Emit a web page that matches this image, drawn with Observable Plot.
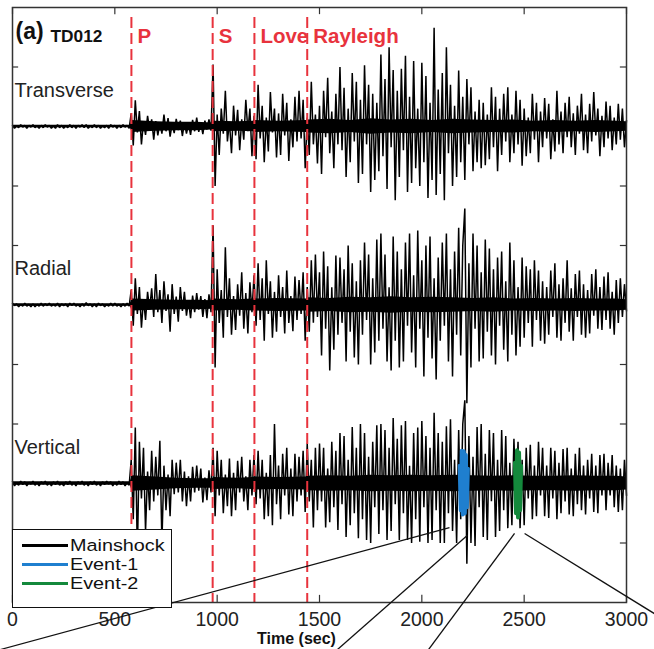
<!DOCTYPE html>
<html>
<head>
<meta charset="utf-8">
<script src="https://cdn.jsdelivr.net/npm/d3@7"></script>
<script src="https://cdn.jsdelivr.net/npm/@observablehq/plot@0.6"></script>
<style>
  body { margin: 0; background: #fff; }
  #wrap { position: relative; width: 654px; height: 649px; overflow: hidden; }
  #legend { position: absolute; left: 12px; top: 529px; width: 158px; height: 71px;
    border: 1.5px solid #111; background: #fff; padding-top: 6px; box-sizing: content-box;
    font: 16.8px "Liberation Sans", Arial, sans-serif; color: #111; }
  #legend .row { height: 19px; line-height: 19px; display: flex; align-items: center; white-space: nowrap; }
  #legend .sw { display: inline-block; width: 46px; height: 3px; margin-left: 9px; margin-right: 2px; }
  #legend .lbl { display: inline-block; transform: scaleX(1.18); transform-origin: 0 50%; }
</style>
</head>
<body>
<div id="wrap"></div>
<script>
// ---- data (amplitudes in hundredths of a trace unit, one sample every 10 s) ----
const sampleStep = 10;
const transverse = [
  2,-3,1,-2,3,-1,2,-3,2,-1,
  3,-2,1,-3,2,-2,3,-1,2,-3,
  1,-3,3,-2,2,-3,1,-2,3,-2,
  2,-3,2,-1,3,-2,3,-3,1,-2,
  3,-2,2,-3,1,-2,2,-3,3,-1,
  2,-3,2,-2,3,-1,2,-3,22,-32,
  44,-10,26,-30,8,-14,18,-6,12,-22,
  9,-15,6,-12,20,-8,14,-17,5,-11,
  13,-6,10,-16,7,-12,4,-14,11,-8,
  15,-9,6,-13,10,-5,12,-7,104,-100,
  20,-48,30,-12,60,-25,8,-45,35,-15,
  28,-40,12,-22,45,-8,30,-50,18,-55,
  70,-20,35,-60,15,-42,58,-10,30,-52,
  22,-48,55,-15,40,-58,12,-35,50,-25,
  60,-20,45,-70,15,-48,75,-30,20,-62,
  35,-80,60,-18,82,-45,25,-70,55,-30,
  100,-40,65,-85,30,-60,90,-25,75,-95,
  45,-80,103,-30,70,-110,55,-90,40,-75,
  121,-50,80,-105,133,-35,95,-124,60,-85,
  97,-40,119,-110,50,-95,110,-70,30,-100,
  107,-60,85,-120,40,-90,166,-115,62,-80,
  90,-124,133,-45,70,-100,35,-85,94,-60,
  50,-90,80,-30,66,-75,25,-60,45,-70,
  40,-65,20,-55,66,-35,50,-75,30,-48,
  55,-25,66,-60,20,-45,60,-30,45,-66,
  30,-50,15,-45,55,-22,40,-60,25,-35,
  48,-20,38,-55,12,-42,60,-30,25,-45,
  40,-18,50,-35,22,-48,35,-12,55,-40,
  20,-45,38,-25,58,-15,30,-50,18,-35,
  42,-20,35,-40,15,-30,38,-22,30,-35,
  10
];
const radial = [
  3,-1,2,-3,1,-2,3,-2,1,-3,
  2,-3,1,-2,3,-2,2,-1,3,-2,
  1,-2,3,-3,2,-1,2,-3,3,-1,
  3,-2,1,-3,2,-2,4,-1,2,-3,
  2,-3,3,-1,2,-3,1,-2,3,-2,
  3,-2,1,-3,2,-2,3,-2,25,-35,
  45,-15,30,-38,10,-25,22,-8,28,-20,
  52,-12,25,-30,40,-10,18,-45,35,-15,
  14,-28,30,-10,22,-18,8,-22,16,-12,
  20,-8,15,-20,10,-22,18,-12,134,-105,
  60,-30,25,-55,97,-20,45,-50,15,-42,
  35,-18,55,-40,20,-48,38,-12,50,-35,
  70,-25,45,-60,75,-15,40,-55,22,-45,
  50,-20,30,-48,58,-30,15,-44,48,-25,
  42,-15,55,-60,30,-45,75,-30,85,-20,
  55,-85,90,-40,65,-110,30,-75,83,-50,
  80,-30,60,-95,100,-45,70,-88,40,-100,
  75,-50,105,-25,85,-100,45,-80,110,-60,
  120,-40,85,-95,30,-110,115,-60,90,-105,
  60,-95,105,-35,120,-80,50,-105,125,-40,
  75,-120,100,-55,115,-90,45,-125,80,-60,
  105,-35,120,-95,60,-120,90,-50,130,-85,
  100,162,-165,70,-105,120,-40,100,-95,55,
  -90,110,-45,95,-85,60,-100,80,-35,90,
  -75,40,-95,105,-50,75,-85,30,-70,80,
  -55,65,-30,60,-70,75,-25,58,-60,40,
  -65,30,-50,58,-20,70,-55,35,-60,45,
  -30,75,-45,28,-60,52,-20,58,-50,35,
  -55,25,-48,52,-18,60,-40,30,-42,48,
  -25,55,-40,22,-50,42,-30,45,-20,35,
  -10
];
const vertical = [
  3,-4,1,-3,4,-2,3,-4,2,-1,
  4,-3,2,-4,3,-1,4,-3,2,-4,
  3,-2,4,-3,1,-4,3,-2,4,-3,
  2,-4,3,-1,4,-3,2,-4,3,-2,
  4,-3,2,-4,3,-2,4,-1,3,-4,
  2,-3,4,-2,3,-4,2,-3,40,-60,
  94,-120,70,-25,60,-80,20,-45,55,-30,
  45,-20,72,-100,30,-45,15,-55,40,-18,
  35,-15,40,-30,20,-38,12,-30,28,-15,
  30,-12,25,-32,10,-28,22,-15,60,-55,
  55,-20,40,-50,15,-38,42,-55,18,-45,
  38,-15,45,-30,12,-45,40,-20,48,-35,
  55,-25,40,-60,18,-55,48,-70,100,-35,
  30,-60,50,-20,60,-52,25,-55,50,-30,
  45,-20,55,-48,67,-30,40,-74,60,-45,
  67,-30,60,-74,25,-65,70,-40,55,-78,
  85,-35,80,-90,40,-70,95,-50,60,-92,
  100,-60,85,-95,45,-100,70,-40,98,-85,
  100,-45,90,-95,60,-80,110,-35,75,-95,
  98,-50,105,-95,30,-100,85,-60,94,-98,
  105,-40,80,-100,60,-95,119,-45,85,-100,
  70,-100,96,-50,108,-80,40,-100,90,-60,
  100,140,-135,80,-100,45,-105,95,-40,100,
  -90,50,-95,90,-30,85,-90,40,-80,90,
  -45,80,-75,35,-70,75,-30,70,-75,40,
  -70,60,-25,65,-60,30,-55,70,-20,60,
  -55,30,-58,60,-25,55,-60,35,-50,58,
  -30,60,-52,25,-55,50,-35,60,-45,30,
  -52,40,-25,50,-48,30,-50,48,-20,50,
  -45,35,-20,48,-40,30,-48,25,-45,40,
  -20
];
// half-width of the solid black high-frequency band of each trace (hundredths), read at these times
const coreTimes = [0, 575, 585, 700, 800, 900, 975, 985, 1100, 1175, 1185, 1300, 1435, 1445, 1550,
  1650, 1750, 1850, 1950, 2050, 2150, 2250, 2350, 2450, 2550, 2650, 2750, 2850, 2950, 3000];
const transverseCore = [2,2,10,8,7,7,6,9,8,9,10,9,10,11,12,10,13,11,12,10,12,11,10,11,9,10,9,10,9,8];
const radialCore = [2,2,10,9,8,8,7,10,9,10,10,11,10,12,11,13,12,14,12,13,12,11,12,10,11,10,11,10,10,9];
const verticalCore = [3,3,13,11,9,8,8,10,9,10,11,10,11,12,13,12,14,13,14,13,14,13,12,13,12,12,13,12,12,11];

const traceNames = ["Transverse", "Radial", "Vertical"];
const traceOffsets = [3, 0, -3];

const event1Times = [2185, 2190, 2195, 2200, 2205, 2210, 2215, 2220, 2225];
const event1Values = [30, -45, 55, -52, 54, -50, 48, -40, 25];
const event2Times = [2455, 2460, 2465, 2470, 2475, 2480, 2485];
const event2Values = [35, -50, 56, -57, 52, -45, 30];

const phaseNames = ["P", "S", "Love", "Rayleigh"];
const phaseTimes = [581, 978, 1182, 1440];

const xTickValues = [0, 500, 1000, 1500, 2000, 2500, 3000];
const yTickValues = [4, 2, 1, -1, -2, -4];

const legendNames = ["Mainshock", "Event-1", "Event-2"];
const legendColors = ["#000000", "#1f7fcf", "#14893c"];

// connector lines leaving the panel (time, trace units)
const connectorT1 = [-59, 2223, 2453, 2502];
const connectorV1 = [-5.79, -3.87, -3.84, -3.84];
const connectorT2 = [2135, 1588, 2033, 3166];
const connectorV2 = [-3.74, -5.79, -5.79, -5.25];

// ---- build tables ----
const rows = [];
[transverse, radial, vertical].forEach((vals, k) =>
  vals.forEach((v, i) => rows.push({trace: traceNames[k], t: i * sampleStep, y: traceOffsets[k] + v / 100})));
const coreRows = [];
[transverseCore, radialCore, verticalCore].forEach((vals, k) =>
  vals.forEach((v, i) => coreRows.push({trace: traceNames[k], t: coreTimes[i],
    lo: traceOffsets[k] - v / 100, hi: traceOffsets[k] + v / 100})));
const ev1 = event1Times.map((t, i) => ({t, y: traceOffsets[2] + event1Values[i] / 100}));
const ev2 = event2Times.map((t, i) => ({t, y: traceOffsets[2] + event2Values[i] / 100}));
const connectors = connectorT1.map((t, i) => ({x1: t, y1: connectorV1[i], x2: connectorT2[i], y2: connectorV2[i]}));
const labels = traceNames.map((name, i) => ({name, y: traceOffsets[i]}));

const red = "#e8333d";
const sans = "'Liberation Sans', Arial, Helvetica, sans-serif";

const chart = Plot.plot({
  width: 654,
  height: 649,
  marginLeft: 12,
  marginRight: 28,
  marginTop: 7,
  marginBottom: 47,
  style: {fontFamily: sans, background: "transparent", overflow: "visible"},
  x: {domain: [0, 3000], axis: null},
  y: {domain: [-5, 5], axis: null},
  marks: [
    Plot.areaY(coreRows, {x: "t", y1: "lo", y2: "hi", z: "trace", fill: "#000", curve: "linear"}),
    Plot.line(rows, {x: "t", y: "y", z: "trace", stroke: "#000", strokeWidth: 1.5, strokeLinejoin: "miter"}),
    Plot.line(ev1, {x: "t", y: "y", stroke: legendColors[1], strokeWidth: 4}),
    Plot.line(ev2, {x: "t", y: "y", stroke: legendColors[2], strokeWidth: 4}),
    Plot.ruleX(phaseTimes, {y1: 4.83, y2: -5, stroke: red, strokeWidth: 2, strokeDasharray: "11,5"}),
    Plot.text(phaseNames, {x: (d, i) => phaseTimes[i], y: 5, dy: 35, dx: 6, lineAnchor: "bottom",
      textAnchor: "start", fill: red, fontWeight: "bold", fontSize: 20.5, ariaLabel: "phase-labels"}),
    Plot.text(["(a)"], {frameAnchor: "top-left", dx: 3, dy: 31, lineAnchor: "bottom", textAnchor: "start",
      fontSize: 23, fontWeight: "bold", fill: "#111", ariaLabel: "panel-letter"}),
    Plot.text(["TD012"], {frameAnchor: "top-left", dx: 38, dy: 34, lineAnchor: "bottom", textAnchor: "start",
      fontSize: 17.3, fontWeight: "bold", fill: "#111", ariaLabel: "station"}),
    Plot.text(labels, {x: 0, y: "y", text: "name", dx: 2, dy: -30, lineAnchor: "bottom", textAnchor: "start",
      fontSize: 20, fill: "#222", ariaLabel: "trace-labels"}),
    // ticks (inward)
    Plot.ruleX(xTickValues, {y1: -5, y2: -4.88, stroke: "#333", strokeWidth: 1.2}),
    Plot.ruleX(xTickValues, {y1: 5, y2: 4.88, stroke: "#333", strokeWidth: 1.2}),
    Plot.ruleY(yTickValues, {x1: 0, x2: 30, stroke: "#333", strokeWidth: 1.2}),
    Plot.ruleY(yTickValues, {x1: 2970, x2: 3000, stroke: "#333", strokeWidth: 1.2}),
    Plot.frame({stroke: "#333", strokeWidth: 1.5}),
    Plot.text(xTickValues, {x: d => d, y: -5, dy: 23, lineAnchor: "bottom", text: d => String(d),
      fontSize: 19.5, fill: "#222", ariaLabel: "x-tick-labels"}),
    Plot.text(["Time (sec)"], {frameAnchor: "bottom", dx: -23, dy: 41, lineAnchor: "bottom",
      fontSize: 16, fontWeight: "bold", fill: "#111", ariaLabel: "x-title"}),
    Plot.link(connectors, {x1: "x1", y1: "y1", x2: "x2", y2: "y2", stroke: "#111", strokeWidth: 1.3})
  ]
});

// the reference lettering is drawn taller than it is wide: stretch it vertically about its baseline
const stretch = {"x-tick-labels": 1.28, "trace-labels": 1.19, "phase-labels": 1.08, "station": 1.12};
Object.entries(stretch).forEach(([name, k]) => {
  chart.querySelectorAll(`g[aria-label="${name}"] text`).forEach(el => {
    const tr = el.getAttribute("transform") || "";
    el.setAttribute("transform", `${tr} scale(1,${k})`);
  });
});

const wrap = document.getElementById("wrap");
wrap.appendChild(chart);

const legend = document.createElement("div");
legend.id = "legend";
legendNames.forEach((name, i) => {
  const row = document.createElement("div");
  row.className = "row";
  const sw = document.createElement("span");
  sw.className = "sw";
  sw.style.background = legendColors[i];
  const lbl = document.createElement("span");
  lbl.className = "lbl";
  lbl.textContent = name;
  row.appendChild(sw);
  row.appendChild(lbl);
  legend.appendChild(row);
});
wrap.appendChild(legend);
</script>
</body>
</html>
